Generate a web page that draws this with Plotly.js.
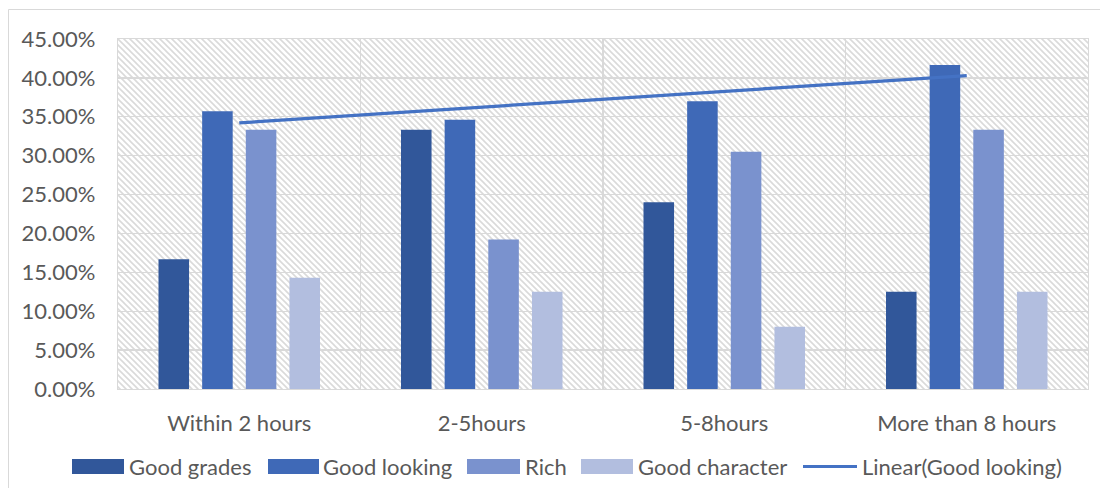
<!DOCTYPE html>
<html>
<head>
<meta charset="utf-8">
<script src="https://cdn.plot.ly/plotly-3.0.1.min.js"></script>
<style>
  html, body { margin: 0; padding: 0; background: #ffffff; }
  #chart { width: 1100px; height: 488px; }
</style>
</head>
<body>
<div id="chart"></div>
<script>
// Preferred attribute per daily screen time (share of respondents, %)
const categories = ['Within 2 hours', '2-5hours', '5-8hours', 'More than 8 hours'];
const goodGrades = [16.67, 33.33, 24.0, 12.5];
const goodLooking = [35.71, 34.62, 37.0, 41.67];
const rich = [33.33, 19.23, 30.5, 33.33];
const goodCharacter = [14.29, 12.5, 8.0, 12.5];
const seriesNames = ['Good grades', 'Good looking', 'Rich', 'Good character'];
const trendName = 'Linear(Good looking)';

const colors = ['#31579A', '#3F69B7', '#7A92CE', '#B2BEDF'];
const trendColor = '#4472C4';
const textColor = '#595959';
const gridColor = '#D9D9D9';
const FONT = 'Lato, "Open Sans", sans-serif';

// Least-squares line through the "Good looking" series, evaluated at each category
function linearFit(values) {
  const n = values.length;
  const xs = values.map((_, i) => i + 1);
  const mx = xs.reduce((a, b) => a + b, 0) / n;
  const my = values.reduce((a, b) => a + b, 0) / n;
  let sxy = 0, sxx = 0;
  xs.forEach((x, i) => { sxy += (x - mx) * (values[i] - my); sxx += (x - mx) * (x - mx); });
  const slope = sxy / sxx;
  return xs.map(x => my + slope * (x - mx));
}
const trendValues = linearFit(goodLooking);

// Plot-area geometry (pixels)
const M = { l: 118, r: 12, t: 39, b: 99 };
const W = 1100, H = 488;
const PW = W - M.l - M.r, PH = H - M.t - M.b;
const px = x => (x - M.l) / PW;          // pixel x -> paper x
const py = y => (H - M.b - y) / PH;      // pixel y -> paper y

const barSeries = [goodGrades, goodLooking, rich, goodCharacter];
const traces = barSeries.map((vals, i) => ({
  type: 'bar',
  name: seriesNames[i],
  x: categories,
  y: vals,
  marker: { color: colors[i], line: { width: 0 } },
  hoverinfo: 'x+y+name'
}));
traces.push({
  type: 'scatter',
  mode: 'lines',
  name: trendName,
  x: categories,
  y: trendValues,
  line: { color: trendColor, width: 3.2 },
  hoverinfo: 'skip'
});

// Diagonal hatch fill for the plot area
const hatchSvg =
  '<svg xmlns="http://www.w3.org/2000/svg" width="' + PW + '" height="' + PH + '">' +
  '<defs><pattern id="hatch" width="6" height="6" patternUnits="userSpaceOnUse">' +
  '<path d="M-1,-1 L7,7 M-1,5 L1,7 M5,-1 L7,1" stroke="#DADADA" stroke-width="1.6"/>' +
  '</pattern></defs>' +
  '<rect width="100%" height="100%" fill="#ffffff"/>' +
  '<rect width="100%" height="100%" fill="url(#hatch)"/></svg>';
const hatchSrc = 'data:image/svg+xml;charset=utf-8,' + encodeURIComponent(hatchSvg);

// Legend drawn as swatches and labels below the axis
const legendY0 = py(474), legendY1 = py(459), legendMid = py(466.5);
const legendItems = [
  { x0: 72, x1: 124, tx: 127, label: seriesNames[0], color: colors[0], kind: 'rect' },
  { x0: 268, x1: 319, tx: 321, label: seriesNames[1], color: colors[1], kind: 'rect' },
  { x0: 467, x1: 520, tx: 523, label: seriesNames[2], color: colors[2], kind: 'rect' },
  { x0: 581, x1: 633, tx: 636, label: seriesNames[3], color: colors[3], kind: 'rect' },
  { x0: 803, x1: 857, tx: 860, label: trendName, color: trendColor, kind: 'line' }
];

const shapes = [
  // outer chart frame
  { type: 'rect', xref: 'paper', yref: 'paper',
    x0: px(8.5), x1: px(1120), y0: py(520), y1: py(9.5),
    line: { color: gridColor, width: 1 }, fillcolor: 'rgba(0,0,0,0)', layer: 'below' }
];
const annotations = [];
legendItems.forEach(it => {
  if (it.kind === 'rect') {
    shapes.push({ type: 'rect', xref: 'paper', yref: 'paper',
      x0: px(it.x0), x1: px(it.x1), y0: legendY0, y1: legendY1,
      fillcolor: it.color, line: { width: 0 } });
  } else {
    shapes.push({ type: 'line', xref: 'paper', yref: 'paper',
      x0: px(it.x0), x1: px(it.x1), y0: legendMid, y1: legendMid,
      line: { color: it.color, width: 3.2 } });
  }
  annotations.push({ xref: 'paper', yref: 'paper', x: px(it.tx), y: legendMid,
    xanchor: 'left', yanchor: 'middle', showarrow: false, text: it.label,
    font: { family: FONT, size: 22, color: textColor } });
});

const layout = {
  width: W, height: H,
  margin: M,
  paper_bgcolor: '#ffffff',
  plot_bgcolor: '#ffffff',
  showlegend: false,
  barmode: 'group',
  bargap: 0.28,
  bargroupgap: 0.3,
  font: { family: FONT, color: textColor, size: 22 },
  xaxis: {
    type: 'category',
    tickson: 'boundaries',
    showgrid: true, gridcolor: gridColor, gridwidth: 1.3,
    showline: true, linecolor: gridColor, linewidth: 1.3, mirror: true,
    ticks: '', ticklabelstandoff: 14,
    tickfont: { family: FONT, size: 22, color: textColor },
    fixedrange: true
  },
  yaxis: {
    range: [0, 45], dtick: 5, tick0: 0,
    tickformat: '.2f', ticksuffix: '%',
    showgrid: true, gridcolor: gridColor, gridwidth: 1.3,
    showline: true, linecolor: gridColor, linewidth: 1.3, mirror: true,
    zeroline: false,
    ticks: '', ticklabelstandoff: 17,
    tickfont: { family: FONT, size: 22, color: textColor },
    fixedrange: true
  },
  images: [{
    source: hatchSrc, xref: 'paper', yref: 'paper',
    x: 0, y: 1, sizex: 1, sizey: 1, sizing: 'stretch',
    xanchor: 'left', yanchor: 'top', layer: 'below'
  }],
  shapes: shapes,
  annotations: annotations
};

Plotly.newPlot('chart', traces, layout, { displayModeBar: false, staticPlot: true });
</script>
</body>
</html>
